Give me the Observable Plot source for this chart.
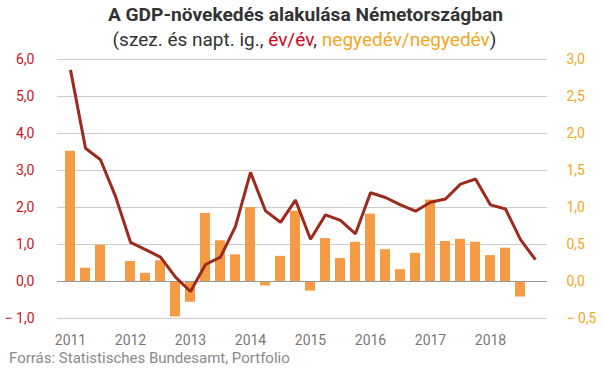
<!DOCTYPE html>
<html>
<head>
<meta charset="utf-8">
<script src="https://cdn.jsdelivr.net/npm/d3@7"></script>
<script src="https://cdn.jsdelivr.net/npm/@observablehq/plot@0.6"></script>
<style>
  html, body { margin: 0; padding: 0; background: #fff; }
  body { width: 605px; height: 378px; position: relative; overflow: hidden; font-family: Roboto, "Noto Sans", sans-serif; }
  #title { position: absolute; left: 3px; width: 605px; top: 3px; text-align: center; font-weight: bold; font-size: 19.2px; color: #333; line-height: 24px; }
  #subtitle { position: absolute; left: 2px; width: 605px; top: 28px; text-align: center; font-size: 19px; color: #333; line-height: 24px; }
  #caption { position: absolute; left: 9px; top: 348px; font-size: 15px; color: #8a8a8a; line-height: 20px; }
  #chart { position: absolute; left: 0; top: 0; }
</style>
</head>
<body>
<div id="chart"></div>
<div id="title">A GDP-növekedés alakulása Németországban</div>
<div id="subtitle">(szez. és napt. ig., <span style="color:#d0021b">év/év</span>, <span style="color:#f5a623">negyedév/negyedév</span>)</div>
<div id="caption">Forrás: Statistisches Bundesamt, Portfolio</div>
<script>
const years = ["2011","2012","2013","2014","2015","2016","2017","2018"];
const quarters = ["Q1","Q2","Q3","Q4"];
// year-on-year growth (left axis, %)
const yoy = [5.72, 3.60, 3.29, 2.30,
             1.06, 0.86, 0.66, 0.12,
            -0.27, 0.46, 0.66, 1.49,
             2.95, 1.91, 1.60, 2.20,
             1.14, 1.80, 1.65, 1.29,
             2.40, 2.27, 2.07, 1.90,
             2.14, 2.23, 2.63, 2.77,
             2.07, 1.96, 1.13, 0.59];
// quarter-on-quarter growth (right axis, %)
const qoq = [1.76, 0.18, 0.49, 0.00,
             0.27, 0.11, 0.28, -0.48,
            -0.28, 0.92, 0.55, 0.36,
             1.00, -0.06, 0.34, 0.95,
            -0.13, 0.58, 0.31, 0.53,
             0.91, 0.43, 0.16, 0.38,
             1.10, 0.54, 0.57, 0.53,
             0.35, 0.45, -0.21, 0.00];
const leftTicks = [-1, 0, 1, 2, 3, 4, 5, 6];
const rightTicks = [-0.5, 0, 0.5, 1, 1.5, 2, 2.5, 3];

const labels = years.flatMap(y => quarters.map(q => y + " " + q));
const data = labels.map((q, i) => ({q, yoy: yoy[i], qoq: qoq[i]}));
const ratio = 2; // left units per right unit

const fmt = d => (d < 0 ? "\u2212 " : "") + Math.abs(d).toFixed(1).replace(".", ",");

const chart = Plot.plot({
  width: 605,
  height: 378,
  marginLeft: 57,
  marginRight: 58,
  marginTop: 59,
  marginBottom: 60,
  style: { fontFamily: "Roboto, 'Noto Sans', sans-serif", fontSize: "14px", background: "transparent" },
  x: { type: "band", domain: labels, padding: 0.35, axis: null },
  y: { domain: [-1, 6], axis: null },
  marks: [
    Plot.ruleY(leftTicks.filter(d => d !== 0), { stroke: "#cccccc", strokeWidth: 1 }),
    Plot.barY(data, { x: "q", y1: 0, y2: d => d.qoq * ratio, fill: "#f59b45" }),
    Plot.ruleY([0], { stroke: "#999999", strokeWidth: 1 }),
    Plot.line(data, { x: "q", y: "yoy", stroke: "#9c2b1d", strokeWidth: 3, strokeLinejoin: "miter", strokeLinecap: "butt" }),
    Plot.axisY({ anchor: "left", label: null, ticks: leftTicks, tickSize: 0, tickPadding: 23, tickFormat: fmt, color: "#cc1424", fontSize: 14 }),
    Plot.axisY({ anchor: "right", label: null, ticks: rightTicks.map(d => d * ratio), tickSize: 0, tickPadding: 19, tickFormat: d => fmt(d / ratio), color: "#f5a623", fontSize: 14 }),
    Plot.axisX({ label: null, ticks: years.map(y => y + " Q1"), tickFormat: d => d.slice(0, 4), tickSize: 0, tickPadding: 17, color: "#777777", fontSize: 14 })
  ]
});
document.getElementById("chart").appendChild(chart);
</script>
</body>
</html>
